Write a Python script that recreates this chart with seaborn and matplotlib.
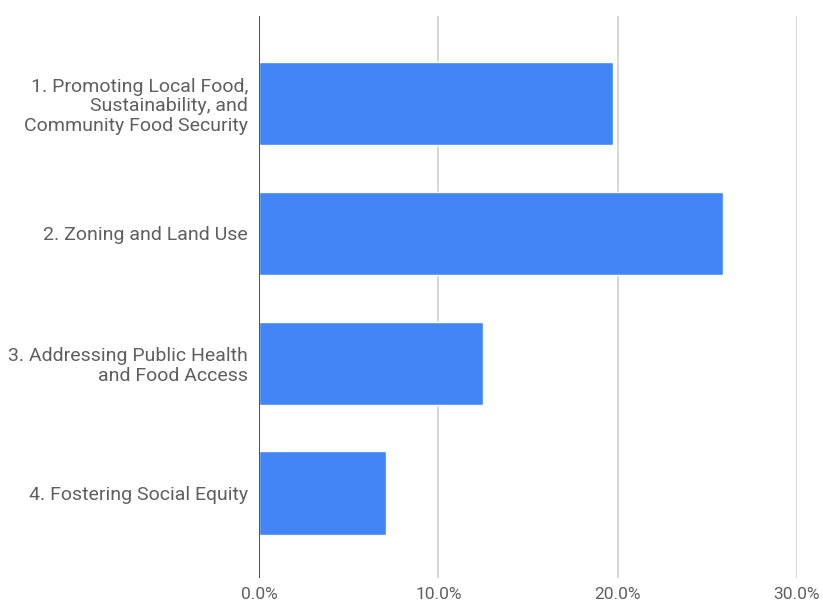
import matplotlib
matplotlib.use("Agg")
import matplotlib.pyplot as plt
import seaborn as sns
import pandas as pd
from matplotlib.ticker import FuncFormatter

categories = [
    "1. Promoting Local Food,\nSustainability, and\nCommunity Food Security",
    "2. Zoning and Land Use",
    "3. Addressing Public Health\nand Food Access",
    "4. Fostering Social Equity",
]
shares = [0.1975, 0.259, 0.125, 0.071]
x_ticks = [0.0, 0.10, 0.20, 0.30]

df = pd.DataFrame({"category": categories, "share": shares})

sns.set_theme(style="white")
plt.rcParams["font.family"] = ["Roboto", "DejaVu Sans"]

fig = plt.figure(figsize=(8.23, 6.05), dpi=100)
ax = fig.add_axes([259 / 823, 1 - 578 / 605, (797 - 259) / 823, (578 - 16) / 605])

sns.barplot(data=df, x="share", y="category", color="#4285F4", saturation=1,
            width=0.64, ax=ax, zorder=3)

ax.set_xlim(0, 0.30)
ax.set_ylim(3.654, -0.673)
ax.set_xticks(x_ticks)
ax.xaxis.set_major_formatter(FuncFormatter(lambda v, _: f"{v * 100:.1f}%"))
ax.grid(axis="x", color="#d0d0d0", linewidth=1.2, zorder=0)
ax.grid(axis="y", visible=False)
ax.axvline(0, color="#444444", linewidth=1.3, zorder=4)

for s in ax.spines.values():
    s.set_visible(False)

ax.set_xlabel("")
ax.set_ylabel("")
ax.tick_params(axis="both", length=0, colors="#5f5f5f")
ax.tick_params(axis="y", pad=8, labelsize=14)
ax.tick_params(axis="x", pad=6.5, labelsize=12.5)
for lbl in ax.get_yticklabels():
    lbl.set_linespacing(1.1)

fig.savefig("out.png", dpi=100)
